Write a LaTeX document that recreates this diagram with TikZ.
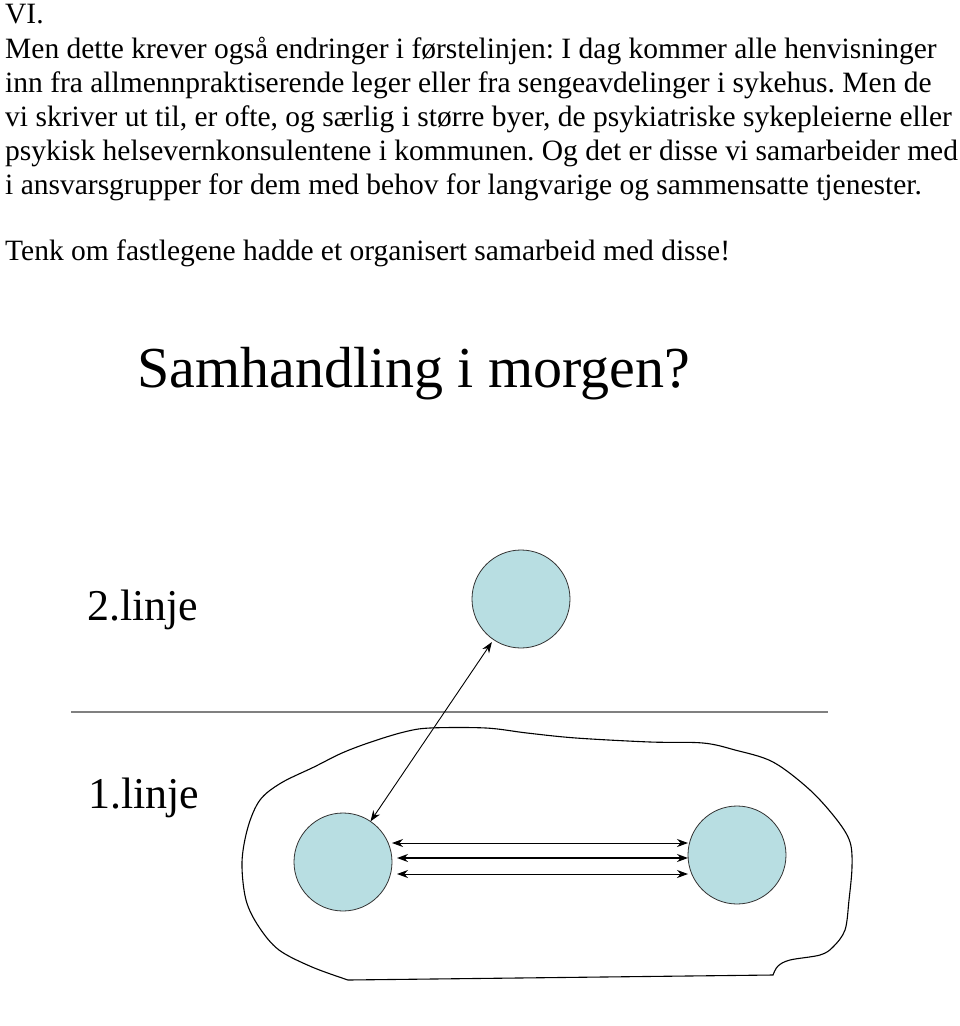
\documentclass[tikz,border=0pt]{standalone}
\usepackage{fontspec}
\setmainfont{Liberation Serif}
\usetikzlibrary{arrows.meta}
\frenchspacing

\definecolor{discfill}{RGB}{184,222,226}
\definecolor{rulegray}{RGB}{128,128,128}

\tikzset{
   disc/.style={draw=black!80, fill=discfill, circle, minimum size=98pt, inner sep=0pt, outer sep=0pt, line width=0.8pt},
   twoway/.style={{Stealth[length=11pt,width=8pt]}-{Stealth[length=11pt,width=8pt]}, line width=0.9pt},
   bodytext/.style={anchor=base west, inner sep=0pt, font=\fontsize{29.5}{34}\selectfont},
   slidetext/.style={anchor=base west, inner sep=0pt, font=\fontsize{44}{48}\selectfont}
}

\begin{document}
\begin{tikzpicture}[x=1pt, y=-1pt]
      \useasboundingbox (0,0) rectangle (960,1026);
      \begin{scope}
         \def \Lines {
            vi/23/{VI.},
            l1/58/{Men dette krever også endringer i førstelinjen: I dag kommer alle henvisninger},
            l2/92/{inn fra allmennpraktiserende leger eller fra sengeavdelinger i sykehus. Men de},
            l3/126/{vi skriver ut til, er ofte, og særlig i større byer, de psykiatriske sykepleierne eller},
            l4/160/{psykisk helsevernkonsulentene i kommunen. Og det er disse vi samarbeider med},
            l5/194/{i ansvarsgrupper for dem med behov for langvarige og sammensatte tjenester.},
            tenk/260/{Tenk om fastlegene hadde et organisert samarbeid med disse!}}
         \foreach \u / \y / \t in \Lines {
            \node[bodytext] (\u) at (5, \y) {\t};
         }
      \end{scope}
      \begin{scope}
         \node[anchor=base west, inner sep=0pt, font=\fontsize{58}{62}\selectfont] (title) at (137, 387) {Samhandling i morgen?};
         \node[slidetext] (second) at (87, 620) {2.linje};
         \node[slidetext] (first) at (88, 808) {1.linje};
         \coordinate (rl) at (71, 712);
         \coordinate (rr) at (828, 712);
         \draw[rulegray, line width=2pt] (rl) -- (rr);
         % hand drawn outline round the first line
         \draw[line width=1.1pt] plot[smooth, tension=0.55] coordinates {
            (348,980) (312,967) (279,950) (259,927) (246,900) (242,862)
            (248,827) (260,800) (281,783) (314,767) (342,753) (371,742)
            (404,732) (430,728) (486,728) (527,733) (576,738) (650,742)
            (703,743) (735,750) (773,762) (810,790) (837,820) (850,842)
            (852,867) (849,900) (845,930) (833,947) (820,955) (790,960)
            (778,966) (773,975)} -- cycle;
         \def \Discs {
            c2/521/599,
            c1a/343/862,
            c1b/737/855}
         \foreach \u / \x / \y in \Discs {
            \node[disc] (\u) at (\x, \y) {};
         }
         \draw[twoway, shorten >=3pt] (c1a) -- (c2);
         \draw[twoway] (c1a.east |- 0,843) -- (c1b.west |- 0,843);
         \draw[twoway, line width=1.5pt, shorten <=5pt] (c1a.east |- 0,858) -- (c1b.west |- 0,858);
         \draw[twoway, shorten <=5pt] (c1a.east |- 0,874) -- (c1b.west |- 0,874);
      \end{scope}
   \end{tikzpicture}
\end{document}
